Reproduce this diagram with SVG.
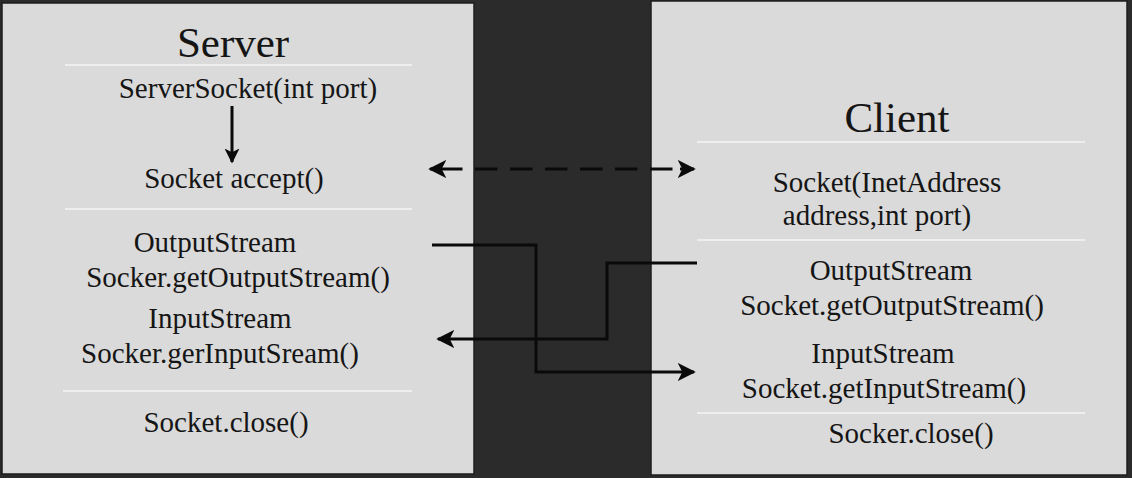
<svg xmlns="http://www.w3.org/2000/svg" width="1132" height="478" viewBox="0 0 1132 478">
<style>
.panel{fill:#dadada;stroke:#1e1e1e;stroke-width:1.5}
.sep{stroke:#f4f4f4;stroke-width:1.5}
text{font-family:"Liberation Serif","Times New Roman",serif;fill:#151515;text-anchor:middle}
.t{font-size:29px}
.title{font-size:43px}
.conn{fill:none;stroke:#0a0a0a;stroke-width:3}
</style>
<defs>
<marker id="ah" viewBox="0 0 10 10" refX="9" refY="5" markerWidth="6" markerHeight="6" orient="auto-start-reverse" markerUnits="strokeWidth">
<path d="M0,0 L10,5 L0,10 L2.5,5 z" fill="#0a0a0a"/>
</marker>
<marker id="ah2" viewBox="0 0 10 10" refX="9" refY="5" markerWidth="5" markerHeight="5" orient="auto" markerUnits="strokeWidth">
<path d="M0,0 L10,5 L0,10 L2.5,5 z" fill="#0a0a0a"/>
</marker>
</defs>
<rect x="0" y="0" width="1132" height="478" fill="#2b2b2b"/>
<g id="server" font-family="Liberation Serif, serif">
<rect class="panel" x="2" y="3" width="472" height="471"/>
<text class="title" x="233" y="57">Server</text>
<line class="sep" x1="65" y1="65" x2="412" y2="65"/>
<text class="t" x="248" y="98">ServerSocket(int port)</text>
<text class="t" x="234" y="188">Socket accept()</text>
<line class="sep" x1="65" y1="209" x2="412" y2="209"/>
<text class="t" x="215" y="252">OutputStream</text>
<text class="t" x="238" y="287">Socker.getOutputStream()</text>
<text class="t" x="220" y="328">InputStream</text>
<text class="t" x="220" y="363">Socker.gerInputSream()</text>
<line class="sep" x1="63" y1="391" x2="412" y2="391"/>
<text class="t" x="226" y="432">Socket.close()</text>
</g>
<g id="client" font-family="Liberation Serif, serif">
<rect class="panel" x="651" y="1" width="476" height="474"/>
<text class="title" x="897" y="132">Client</text>
<line class="sep" x1="697" y1="142" x2="1085" y2="142"/>
<text class="t" x="887" y="192">Socket(InetAddress</text>
<text class="t" x="877" y="225">address,int port)</text>
<line class="sep" x1="697" y1="240" x2="1085" y2="240"/>
<text class="t" x="891" y="280">OutputStream</text>
<text class="t" x="892" y="315">Socket.getOutputStream()</text>
<text class="t" x="883" y="363">InputStream</text>
<text class="t" x="884" y="398">Socket.getInputStream()</text>
<line class="sep" x1="697" y1="413" x2="1085" y2="413"/>
<text class="t" x="911" y="443">Socker.close()</text>
</g>
<g id="connectors">
<line class="conn" x1="232" y1="106" x2="232" y2="162" stroke-width="2" marker-end="url(#ah2)"/>
<line class="conn" x1="440" y1="169" x2="682" y2="169" stroke-dasharray="22.5 12.5"/>
<line class="conn" x1="442" y1="169" x2="430" y2="169" marker-end="url(#ah)"/>
<line class="conn" x1="680" y1="169" x2="694" y2="169" marker-end="url(#ah)"/>
<path class="conn" d="M432,245 H536 V372 H694" marker-end="url(#ah)"/>
<path class="conn" d="M697,263 H607 V339 H438" marker-end="url(#ah)"/>
</g>
</svg>
